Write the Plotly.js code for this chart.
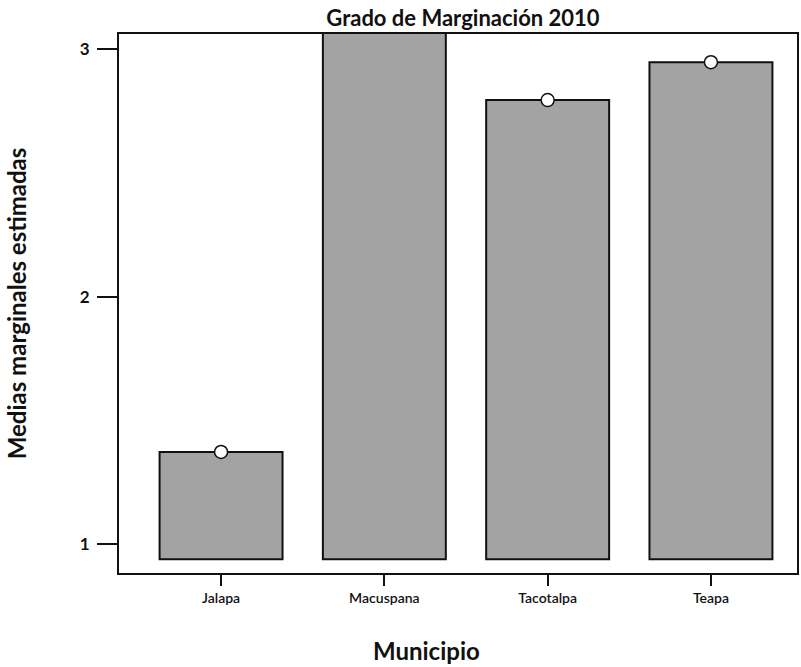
<!DOCTYPE html>
<html><head><meta charset="utf-8">
<script src="https://cdn.plot.ly/plotly-3.0.1.min.js"></script>
<style>body{margin:0;background:#fff}#c{width:801px;height:667px}</style>
</head><body><div id="c"></div>
<script>
const municipios = ["Jalapa", "Macuspana", "Tacotalpa", "Teapa"];
const medias = [1.372, 3.30, 2.794, 2.947];
const baseValue = 0.939;
const yTicks = [1, 2, 3];

const barTrace = {
  type: "bar",
  x: municipios.map((_, i) => i),
  y: medias.map(v => v - baseValue),
  base: medias.map(() => baseValue),
  width: 0.753,
  marker: {color: "#a3a3a3", line: {color: "#111", width: 2}},
  hoverinfo: "skip"
};
const pointTrace = {
  type: "scatter", mode: "markers",
  x: municipios.map((_, i) => i),
  y: medias,
  marker: {symbol: "circle", size: 13, color: "#fff", line: {color: "#111", width: 1.5}},
  cliponaxis: true
};
const font = "Lato, 'Open Sans', sans-serif";
const layout = {
  width: 801, height: 667,
  margin: {l: 119, r: 4, t: 34, b: 94},
  paper_bgcolor: "#fff", plot_bgcolor: "#fff",
  showlegend: false,
  font: {family: font, color: "#111"},
  title: {text: "<b>Grado de Marginación 2010</b>", font: {size: 22, family: font}, x: 0.578, xanchor: "center", y: 0.972, yanchor: "middle"},
  xaxis: {
    range: [-0.625, 3.527],
    tickvals: municipios.map((_, i) => i), ticktext: municipios,
    ticks: "outside", ticklen: 11, tickwidth: 2, tickcolor: "#111",
    tickfont: {size: 14, family: font, weight: 600},
    showline: true, linecolor: "#111", linewidth: 2, mirror: true,
    showgrid: false, zeroline: false
  },
  yaxis: {
    range: [0.883, 3.061],
    tickvals: yTicks, ticktext: yTicks.map(String),
    ticks: "outside", ticklen: 20, tickwidth: 2, tickcolor: "#111",
    tickfont: {size: 17, family: font, weight: 700},
    ticklabelstandoff: 4,
    showline: true, linecolor: "#111", linewidth: 2, mirror: true,
    showgrid: false, zeroline: false,
    title: {text: "<b>Medias marginales estimadas</b>", font: {size: 24, family: font}, standoff: 46}
  },
  annotations: [{
    text: "<b>Municipio</b>", xref: "paper", yref: "paper",
    x: 0.454, y: -0.1447, xanchor: "center", yanchor: "middle",
    showarrow: false, font: {size: 24, family: font, color: "#111"}
  }]
};
Plotly.newPlot("c", [barTrace, pointTrace], layout, {staticPlot: true});
</script></body></html>
